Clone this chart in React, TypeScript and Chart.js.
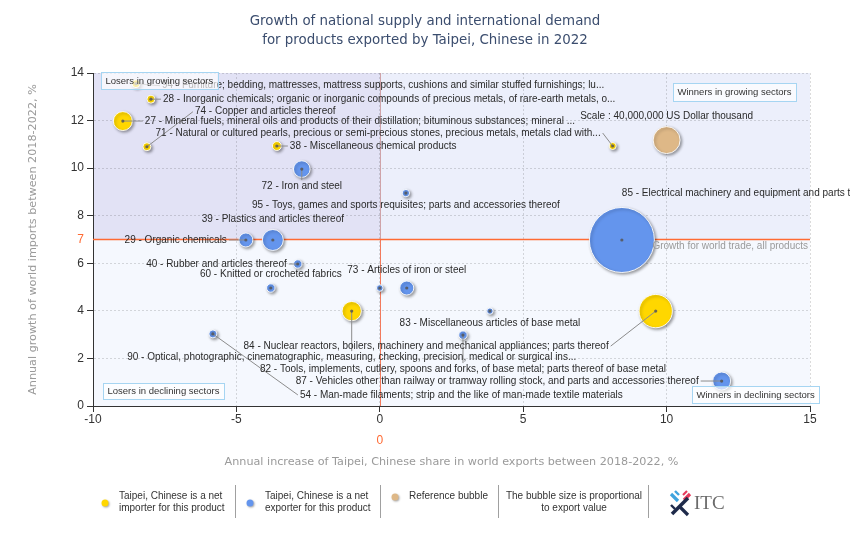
import React, { useEffect, useRef } from 'react';
import { Chart, registerables } from 'chart.js';

Chart.register(...registerables);

// ---------------- data ----------------
const TITLE_LINES = [
  'Growth of national supply and international demand',
  'for products exported by Taipei, Chinese in 2022',
];
const X_TITLE = 'Annual increase of Taipei, Chinese share in world exports between 2018-2022, %';
const Y_TITLE = 'Annual growth of world imports between 2018-2022, %';

const X_TICKS = [-10, -5, 0, 5, 10, 15];
const Y_TICKS = [0, 2, 4, 6, 8, 10, 12, 14];
const WORLD_GROWTH = 7; // growth for world trade, all products
const SHARE_ZERO = 0;

// Net importer products (yellow)
const IMPORTER_CODES = ['94', '28', '27', '74', '71', '38', '90', '84'];
const IMPORTER_NAMES = [
  'Furniture; bedding, mattresses, mattress supports, cushions and similar stuffed furnishings; lu...',
  'Inorganic chemicals; organic or inorganic compounds of precious metals, of rare-earth metals, o...',
  'Mineral fuels, mineral oils and products of their distillation; bituminous substances; mineral ...',
  'Copper and articles thereof',
  'Natural or cultured pearls, precious or semi-precious stones, precious metals, metals clad with...',
  'Miscellaneous chemical products',
  'Optical, photographic, cinematographic, measuring, checking, precision, medical or surgical ins...',
  'Nuclear reactors, boilers, machinery and mechanical appliances; parts thereof',
];
const IMPORTER_SHARE_GROWTH = [-8.5, -7.98, -8.96, -8.12, 8.12, -3.59, -0.98, 9.62];
const IMPORTER_DEMAND_GROWTH = [13.55, 12.9, 11.98, 10.9, 10.93, 10.93, 3.99, 3.99];
const IMPORTER_EXPORT_VALUE = [3.5e6, 3.5e6, 19.8e6, 3.5e6, 2.7e6, 4.4e6, 20.5e6, 61e6];

// Net exporter products (blue)
const EXPORTER_CODES = ['72', '95', '39', '29', '40', '60', '73', '', '83', '82', '54', '87', '85'];
const EXPORTER_NAMES = [
  'Iron and steel',
  'Toys, games and sports requisites; parts and accessories thereof',
  'Plastics and articles thereof',
  'Organic chemicals',
  'Rubber and articles thereof',
  'Knitted or crocheted fabrics',
  'Articles of iron or steel',
  '',
  'Miscellaneous articles of base metal',
  'Tools, implements, cutlery, spoons and forks, of base metal; parts thereof of base metal',
  'Man-made filaments; strip and the like of man-made textile materials',
  'Vehicles other than railway or tramway rolling stock, and parts and accessories thereof',
  'Electrical machinery and equipment and parts thereof; sound recorders and reproducers, television ...',
];
const EXPORTER_SHARE_GROWTH = [-2.72, 0.91, -3.73, -4.67, -2.86, -3.8, 0.94, 0, 3.84, 2.9, -5.82, 11.92, 8.44];
const EXPORTER_DEMAND_GROWTH = [9.96, 8.95, 6.98, 6.98, 5.97, 4.96, 4.96, 4.96, 3.99, 2.98, 3.03, 1.05, 6.98];
const EXPORTER_EXPORT_VALUE = [15.2e6, 3.0e6, 24.2e6, 10.8e6, 3.9e6, 3.9e6, 10.8e6, 2.4e6, 2.2e6, 3.9e6, 3.5e6, 17.8e6, 232e6];

// Reference bubble
const REFERENCE_VALUE = 40000000; // US Dollar thousand
const REFERENCE_X = 10;
const REFERENCE_Y = 11.18;
const REFERENCE_TEXT = 'Scale : 40,000,000 US Dollar thousand';

const QUADRANT_TEXTS = [
  'Losers in growing sectors',
  'Winners in growing sectors',
  'Losers in declining sectors',
  'Winners in declining sectors',
];
const WORLD_LINE_TEXT = 'Growth for world trade, all products';
const LEGEND_TEXTS = [
  ['Taipei, Chinese is a net', 'importer for this product'],
  ['Taipei, Chinese is a net', 'exporter for this product'],
  ['Reference bubble'],
  ['The bubble size is proportional', 'to export value'],
];

// ---------------- styles / layout ----------------
const REFERENCE_RADIUS = 13.5;
const C_IMPORTER = '#FFD700';
const C_EXPORTER = '#6495ED';
const C_REFERENCE = '#DEB887';
const C_ORANGE = '#FF6A33';
const LABEL_FONT = '10px "Liberation Sans", Arial, sans-serif';
const BOX_FONT = '9.5px "Liberation Sans", Arial, sans-serif';

// label placement in pixels relative to the bubble centre: [dx, dy, align, leader]
type Place = [number, number, CanvasTextAlign, boolean];
const LABEL_PLACE: Record<string, Place> = {
  '94': [26, 2, 'left', true],
  '28': [12, 0, 'left', true],
  '27': [22, 0, 'left', true],
  '74': [48, -35, 'left', true],
  '71': [-12, -13, 'right', true],
  '38': [13, 0, 'left', true],
  '90': [0, 46, 'center', true],
  '84': [-47, 35, 'right', true],
  '72': [0, 17, 'center', true],
  '95': [0, 12, 'center', false],
  '39': [0, -21, 'center', false],
  '29': [-19, 0, 'right', true],
  '40': [-11, 0, 'right', true],
  '60': [0, -14, 'center', false],
  '73': [0, -18, 'center', false],
  '83': [0, 12, 'center', false],
  '82': [0, 34, 'center', true],
  '54': [87, 61, 'left', true],
  '87': [-23, 0, 'right', true],
  '85': [0, -47, 'left', false],
};

const radius = (v: number) => REFERENCE_RADIUS * Math.sqrt(v / REFERENCE_VALUE);

function boxWidth(ctx: CanvasRenderingContext2D, text: string) {
  ctx.font = BOX_FONT;
  return ctx.measureText(text).width + 9;
}

function drawBox(ctx: CanvasRenderingContext2D, text: string, left: number, top: number, h: number) {
  const w = boxWidth(ctx, text);
  ctx.fillStyle = 'rgba(255,255,255,0.68)';
  ctx.fillRect(left, top, w, h);
  ctx.strokeStyle = '#a6d5f2';
  ctx.lineWidth = 1;
  ctx.strokeRect(Math.round(left) + 0.5, Math.round(top) + 0.5, Math.round(w), h);
  ctx.fillStyle = '#333';
  ctx.textAlign = 'left';
  ctx.textBaseline = 'middle';
  ctx.fillText(text, left + 4.5, top + h / 2 + 0.5);
}

function legendDot(ctx: CanvasRenderingContext2D, x: number, y: number, color: string) {
  ctx.save();
  ctx.shadowColor = 'rgba(0,0,0,0.35)';
  ctx.shadowBlur = 2;
  ctx.shadowOffsetX = 1;
  ctx.shadowOffsetY = 1;
  ctx.beginPath();
  ctx.arc(x, y, 3.5, 0, Math.PI * 2);
  ctx.fillStyle = color;
  ctx.fill();
  ctx.restore();
}

const overlayPlugin = {
  id: 'overlay',
  beforeDraw(chart: any) {
    const { ctx, chartArea: a, scales } = chart;
    const x0 = Math.round(scales.x.getPixelForValue(SHARE_ZERO)) + 0.5;
    const y7 = scales.y.getPixelForValue(WORLD_GROWTH);
    ctx.save();
    ctx.fillStyle = '#f5f8fe';
    ctx.fillRect(a.left, a.top, a.width, a.height);
    ctx.fillStyle = '#eceffb';
    ctx.fillRect(a.left, a.top, a.width, y7 - a.top);
    ctx.fillStyle = '#e2e2f5';
    ctx.fillRect(a.left, a.top, x0 - a.left, y7 - a.top);
    ctx.lineWidth = 1;
    ctx.strokeStyle = '#cfa3a8';
    ctx.beginPath();
    ctx.moveTo(x0, a.top);
    ctx.lineTo(x0, y7);
    ctx.stroke();
    ctx.strokeStyle = '#f27a5c';
    ctx.beginPath();
    ctx.moveTo(x0, y7);
    ctx.lineTo(x0, a.bottom);
    ctx.stroke();
    ctx.restore();
  },
  beforeDatasetsDraw(chart: any) {
    const { ctx, chartArea: a, scales } = chart;
    const y7 = scales.y.getPixelForValue(WORLD_GROWTH);
    ctx.save();
    ctx.strokeStyle = C_ORANGE;
    ctx.lineWidth = 1.5;
    ctx.beginPath();
    ctx.moveTo(a.left, y7);
    ctx.lineTo(a.right, y7);
    ctx.stroke();
    ctx.restore();
    ctx.save();
    ctx.shadowColor = 'rgba(0,0,0,0.38)';
    ctx.shadowBlur = 3;
    ctx.shadowOffsetX = 1.5;
    ctx.shadowOffsetY = 1.5;
  },
  afterDatasetsDraw(chart: any) {
    const { ctx, scales } = chart;
    ctx.restore();
    const items: { x: number; y: number; code: string; name: string }[] = [];
    IMPORTER_CODES.forEach((c, i) =>
      items.push({
        x: scales.x.getPixelForValue(IMPORTER_SHARE_GROWTH[i]),
        y: scales.y.getPixelForValue(IMPORTER_DEMAND_GROWTH[i]),
        code: c,
        name: IMPORTER_NAMES[i],
      })
    );
    EXPORTER_CODES.forEach((c, i) =>
      items.push({
        x: scales.x.getPixelForValue(EXPORTER_SHARE_GROWTH[i]),
        y: scales.y.getPixelForValue(EXPORTER_DEMAND_GROWTH[i]),
        code: c,
        name: EXPORTER_NAMES[i],
      })
    );
    ctx.save();
    // leader lines
    ctx.strokeStyle = '#8c8c8c';
    ctx.lineWidth = 1;
    items.forEach((it) => {
      const p = LABEL_PLACE[it.code];
      if (!p || !p[3]) return;
      const lx = it.x + p[0];
      const ly = it.y + p[1];
      let ex = lx, ey = ly;
      if (p[2] === 'left') ex = lx - 2;
      else if (p[2] === 'right') ex = lx + 2;
      else ey = p[1] > 0 ? ly - 6 : ly + 6;
      ctx.beginPath();
      ctx.moveTo(it.x, it.y);
      ctx.lineTo(ex, ey);
      ctx.stroke();
    });
    // centre dots
    const refX = scales.x.getPixelForValue(REFERENCE_X);
    const refY = scales.y.getPixelForValue(REFERENCE_Y);
    ctx.fillStyle = 'rgba(85,85,85,0.85)';
    items.forEach((it) => {
      ctx.beginPath();
      ctx.arc(it.x, it.y, 1.6, 0, Math.PI * 2);
      ctx.fill();
    });
    // labels
    ctx.font = LABEL_FONT;
    ctx.fillStyle = '#2a2a2a';
    ctx.textBaseline = 'middle';
    items.forEach((it) => {
      const p = LABEL_PLACE[it.code];
      if (!p || !it.code) return;
      ctx.textAlign = p[2];
      ctx.fillText(`${it.code} - ${it.name}`, it.x + p[0], it.y + p[1]);
    });
    ctx.textAlign = 'center';
    ctx.fillText(REFERENCE_TEXT, refX, refY - 24);
    ctx.restore();
  },
  afterDraw(chart: any) {
    const { ctx, chartArea: a, scales } = chart;
    const x0 = scales.x.getPixelForValue(SHARE_ZERO);
    const y7 = scales.y.getPixelForValue(WORLD_GROWTH);
    ctx.save();
    // title
    ctx.font = '13.4px "DejaVu Sans", Verdana, sans-serif';
    ctx.fillStyle = '#3b4d6e';
    ctx.textAlign = 'center';
    ctx.textBaseline = 'middle';
    ctx.fillText(TITLE_LINES[0], 425, 22);
    ctx.fillText(TITLE_LINES[1], 425, 41);
    // axis titles
    ctx.font = '11.2px "DejaVu Sans", Verdana, sans-serif';
    ctx.fillStyle = '#9a9a9a';
    ctx.fillText(X_TITLE, (a.left + a.right) / 2, 462);
    ctx.save();
    ctx.translate(33, (a.top + a.bottom) / 2);
    ctx.rotate(-Math.PI / 2);
    ctx.fillText(Y_TITLE, 0, 0);
    ctx.restore();
    // orange reference values
    ctx.font = '12px "Liberation Sans", Arial, sans-serif';
    ctx.fillStyle = C_ORANGE;
    ctx.textAlign = 'right';
    ctx.fillText(String(WORLD_GROWTH), a.left - 9, y7);
    ctx.textAlign = 'center';
    ctx.fillText(String(SHARE_ZERO), x0, 441);
    // world growth text
    ctx.font = LABEL_FONT;
    ctx.fillStyle = '#9a9a9a';
    ctx.textAlign = 'right';
    ctx.fillText(WORLD_LINE_TEXT, a.right - 2, y7 + 7);
    // quadrant boxes
    drawBox(ctx, QUADRANT_TEXTS[0], a.left + 8, a.top - 1, 17);
    const wg = boxWidth(ctx, QUADRANT_TEXTS[1]);
    drawBox(ctx, QUADRANT_TEXTS[1], a.right - 14 - wg, a.top + 10, 18);
    drawBox(ctx, QUADRANT_TEXTS[2], a.left + 10, a.bottom - 23, 16);
    drawBox(ctx, QUADRANT_TEXTS[3], a.right - 118, a.bottom - 20, 17);

    // legend
    const ly1 = 496, ly2 = 508;
    ctx.font = LABEL_FONT;
    ctx.fillStyle = '#333';
    ctx.textBaseline = 'middle';
    legendDot(ctx, 105, 503, C_IMPORTER);
    ctx.textAlign = 'left';
    ctx.fillText(LEGEND_TEXTS[0][0], 119, ly1);
    ctx.fillText(LEGEND_TEXTS[0][1], 119, ly2);
    legendDot(ctx, 250, 503, C_EXPORTER);
    ctx.fillStyle = '#333';
    ctx.fillText(LEGEND_TEXTS[1][0], 265, ly1);
    ctx.fillText(LEGEND_TEXTS[1][1], 265, ly2);
    legendDot(ctx, 395, 497, C_REFERENCE);
    ctx.fillStyle = '#333';
    ctx.fillText(LEGEND_TEXTS[2][0], 409, ly1);
    ctx.textAlign = 'center';
    ctx.fillText(LEGEND_TEXTS[3][0], 574, ly1);
    ctx.fillText(LEGEND_TEXTS[3][1], 574, ly2);
    ctx.strokeStyle = '#a0a0a0';
    ctx.lineWidth = 1;
    [235, 380, 498, 648].forEach((sx) => {
      ctx.beginPath();
      ctx.moveTo(sx + 0.5, 485);
      ctx.lineTo(sx + 0.5, 518);
      ctx.stroke();
    });
    // ITC logo
    ctx.lineCap = 'butt';
    const seg = (x1: number, y1: number, x2: number, y2: number, c: string, w: number) => {
      ctx.strokeStyle = c;
      ctx.lineWidth = w;
      ctx.beginPath();
      ctx.moveTo(x1, y1);
      ctx.lineTo(x2, y2);
      ctx.stroke();
    };
    seg(671, 494, 678, 501, '#3fa3de', 3.2);
    seg(675, 491, 679, 495, '#3fa3de', 2.4);
    seg(690, 494, 684, 500, '#e63a5c', 3.2);
    seg(687, 491, 683, 495, '#e63a5c', 2.2);
    seg(672, 514, 688, 498, '#1e2a4a', 3.6);
    seg(679, 506, 688, 515, '#1e2a4a', 3.2);
    seg(671, 505, 675, 509, '#1e2a4a', 2.4);
    ctx.font = '19px "Liberation Serif", "Times New Roman", serif';
    ctx.fillStyle = '#6b6b6b';
    ctx.textAlign = 'left';
    ctx.textBaseline = 'middle';
    ctx.fillText('ITC', 694, 504);
    ctx.restore();
  },
};

export default function App() {
  const ref = useRef<HTMLCanvasElement>(null);
  useEffect(() => {
    const canvas = ref.current;
    if (!canvas) return;
    const tickFont = { family: '"Liberation Sans", Arial, sans-serif', size: 12 };
    const chart = new Chart(canvas, {
      type: 'bubble',
      data: {
        datasets: [
          {
            label: 'Reference bubble',
            data: [{ x: REFERENCE_X, y: REFERENCE_Y, r: radius(REFERENCE_VALUE) }],
            backgroundColor: C_REFERENCE,
            borderColor: 'rgba(255,255,255,0.9)',
            borderWidth: 1,
          },
          {
            label: 'Net exporter',
            data: EXPORTER_SHARE_GROWTH.map((x, i) => ({
              x,
              y: EXPORTER_DEMAND_GROWTH[i],
              r: radius(EXPORTER_EXPORT_VALUE[i]),
            })),
            backgroundColor: C_EXPORTER,
            borderColor: 'rgba(255,255,255,0.9)',
            borderWidth: 1,
          },
          {
            label: 'Net importer',
            data: IMPORTER_SHARE_GROWTH.map((x, i) => ({
              x,
              y: IMPORTER_DEMAND_GROWTH[i],
              r: radius(IMPORTER_EXPORT_VALUE[i]),
            })),
            backgroundColor: C_IMPORTER,
            borderColor: 'rgba(255,255,255,0.9)',
            borderWidth: 1,
          },
        ],
      },
      options: {
        animation: false,
        responsive: false,
        devicePixelRatio: 1,
        events: [],
        layout: { padding: { left: 63, right: 40, top: 73, bottom: 105 } },
        plugins: {
          legend: { display: false },
          title: { display: false },
          tooltip: { enabled: false },
        },
        scales: {
          x: {
            type: 'linear',
            min: X_TICKS[0],
            max: X_TICKS[X_TICKS.length - 1],
            afterBuildTicks: (s: any) => {
              s.ticks = X_TICKS.map((v) => ({ value: v }));
            },
            afterFit: (s: any) => {
              s.height = 25;
            },
            ticks: { padding: 0, color: '#333', font: tickFont },
            grid: { color: 'rgba(0,0,0,0.14)', tickColor: '#333', tickLength: 6 },
            border: { color: '#333', dash: [2, 2] },
          },
          y: {
            type: 'linear',
            min: Y_TICKS[0],
            max: Y_TICKS[Y_TICKS.length - 1],
            afterBuildTicks: (s: any) => {
              s.ticks = Y_TICKS.map((v) => ({ value: v }));
            },
            afterFit: (s: any) => {
              s.width = 30;
            },
            ticks: { padding: 3, color: '#333', font: tickFont },
            grid: { color: 'rgba(0,0,0,0.14)', tickColor: '#333', tickLength: 6 },
            border: { color: '#333', dash: [2, 2] },
          },
        },
      },
      plugins: [overlayPlugin],
    } as any);
    return () => chart.destroy();
  }, []);
  return (
    <div style={{ position: 'fixed', left: 0, top: 0, width: 850, height: 536, background: '#fff' }}>
      <canvas ref={ref} width={850} height={536} style={{ display: 'block' }} />
    </div>
  );
}
